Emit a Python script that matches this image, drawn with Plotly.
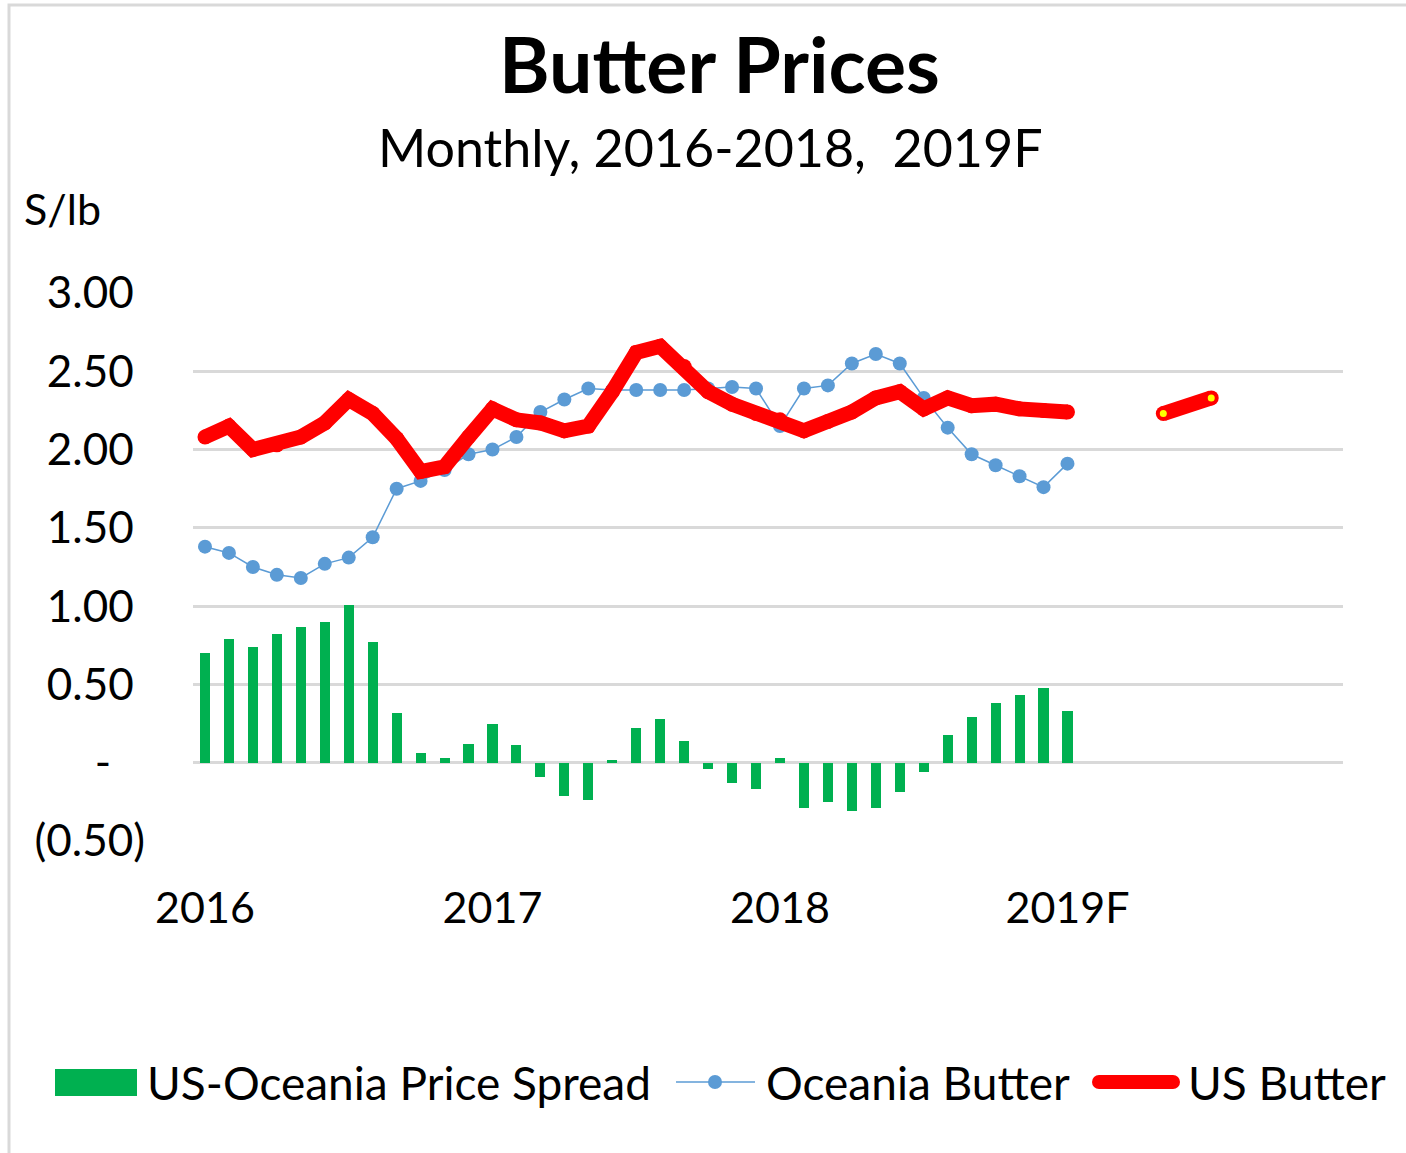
import plotly.graph_objects as go

# Monthly series, Jan 2016 (index 0) through Jan 2019 (index 36)
months = list(range(37))
oceania_butter = [1.38, 1.34, 1.25, 1.20, 1.18, 1.27, 1.31, 1.44, 1.75, 1.80, 1.87, 1.97,
                  2.00, 2.08, 2.24, 2.32, 2.39, 2.38, 2.38, 2.38, 2.38, 2.39, 2.40, 2.39,
                  2.15, 2.39, 2.41, 2.55, 2.61, 2.55, 2.33, 2.14, 1.97, 1.90, 1.83, 1.76,
                  1.91]
us_butter = [2.08, 2.15, 2.00, 2.03, 2.08, 2.17, 2.32, 2.23, 2.07, 1.86, 1.89, 2.08,
             2.26, 2.19, 2.17, 2.12, 2.15, 2.37, 2.62, 2.66, 2.53, 2.37, 2.29, 2.23,
             2.19, 2.12, 2.18, 2.24, 2.33, 2.37, 2.26, 2.33, 2.28, 2.29, 2.26, 2.25,
             2.24]
price_spread = [0.70, 0.79, 0.74, 0.82, 0.87, 0.90, 1.01, 0.77, 0.32, 0.06, 0.03, 0.12,
                0.25, 0.11, -0.09, -0.21, -0.24, 0.02, 0.22, 0.28, 0.14, -0.04, -0.13, -0.17,
                0.03, -0.29, -0.25, -0.31, -0.29, -0.19, -0.06, 0.18, 0.29, 0.38, 0.43, 0.48,
                0.33]

# 2019 forecast points
forecast_months = [40, 42]
us_butter_forecast = [2.23, 2.33]

x_tick_vals = [0, 12, 24, 36]
x_tick_text = ["2016", "2017", "2018", "2019F"]
y_tick_vals = [3.0, 2.5, 2.0, 1.5, 1.0, 0.5, 0.0, -0.5]
y_tick_text = ["3.00", "2.50", "2.00", "1.50", "1.00", "0.50", "-", "(0.50)"]
nb = "\u00a0"
y_tick_text = [t if t.startswith("(") else (t + nb if t != "-" else t + nb * 3) for t in y_tick_text]

FONT = "Lato"
GREEN = "#00b050"
BLUE = "#5b9bd5"
RED = "#ff0000"
GRID = "#d9d9d9"
US_W = 15

W, H = 1406, 1153
ML, MR, MT, MB = 193, 63, 293, 312
PW, PH = W - ML - MR, H - MT - MB


def px(x):
    return (x - ML) / PW


def py(y):
    return (H - MB - y) / PH


fig = go.Figure()

fig.add_trace(go.Bar(x=months, y=price_spread, name="US-Oceania Price Spread",
                     marker=dict(color=GREEN, line=dict(width=0)), width=0.42))
fig.add_trace(go.Scatter(x=months, y=oceania_butter, name="Oceania Butter", mode="lines+markers",
                         line=dict(color=BLUE, width=1.5),
                         marker=dict(color=BLUE, size=14)))
# thick line; same-size markers give rounded joins and ends
fig.add_trace(go.Scatter(x=months, y=us_butter, name="US Butter", mode="lines+markers",
                         line=dict(color=RED, width=US_W),
                         marker=dict(color=RED, size=US_W, line=dict(width=0))))
fig.add_trace(go.Scatter(x=forecast_months, y=us_butter_forecast, name="US Butter 2019F",
                         mode="lines+markers",
                         line=dict(color=RED, width=US_W),
                         marker=dict(color=RED, size=US_W, line=dict(width=0))))
fig.add_trace(go.Scatter(x=forecast_months, y=us_butter_forecast, name="US Butter 2019F points",
                         mode="markers",
                         marker=dict(color="#ffff00", size=7, line=dict(width=0))))

shapes = []
annotations = []

# outer chart border
shapes.append(dict(type="rect", xref="paper", yref="paper",
                   x0=px(9), x1=px(W + 20), y0=py(H + 20), y1=py(5),
                   line=dict(color=GRID, width=3), layer="below"))

LEG_FS = 46
# legend: spread swatch
shapes.append(dict(type="rect", xref="paper", yref="paper",
                   x0=px(55), x1=px(137), y0=py(1096), y1=py(1069),
                   fillcolor=GREEN, line=dict(width=0)))
annotations.append(dict(text="US-Oceania Price Spread", xref="paper", yref="paper",
                        x=px(145), y=py(1082), xanchor="left", yanchor="middle",
                        showarrow=False, font=dict(size=LEG_FS, color="#000", family=FONT)))
# legend: Oceania line with marker
shapes.append(dict(type="line", xref="paper", yref="paper",
                   x0=px(676), x1=px(755), y0=py(1082), y1=py(1082),
                   line=dict(color=BLUE, width=1.5)))
shapes.append(dict(type="circle", xref="paper", yref="paper",
                   x0=px(708), x1=px(722), y0=py(1089), y1=py(1075),
                   fillcolor=BLUE, line=dict(width=0)))
annotations.append(dict(text="Oceania Butter", xref="paper", yref="paper",
                        x=px(764), y=py(1082), xanchor="left", yanchor="middle",
                        showarrow=False, font=dict(size=LEG_FS, color="#000", family=FONT)))
# legend: US butter thick line with rounded ends
shapes.append(dict(type="line", xref="paper", yref="paper",
                   x0=px(1099), x1=px(1173), y0=py(1082), y1=py(1082),
                   line=dict(color=RED, width=14)))
for cx in (1099, 1173):
    shapes.append(dict(type="circle", xref="paper", yref="paper",
                       x0=px(cx - 7), x1=px(cx + 7), y0=py(1089), y1=py(1075),
                       fillcolor=RED, line=dict(width=0)))
annotations.append(dict(text="US Butter", xref="paper", yref="paper",
                        x=px(1186), y=py(1082), xanchor="left", yanchor="middle",
                        showarrow=False, font=dict(size=LEG_FS, color="#000", family=FONT)))

# titles
annotations.append(dict(text="<b>Butter Prices</b>", xref="paper", yref="paper",
                        x=px(719), y=py(63), xanchor="center", yanchor="middle",
                        showarrow=False, font=dict(size=77, color="#000", family=FONT)))
annotations.append(dict(text="Monthly, 2016-2018,  2019F", xref="paper", yref="paper",
                        x=px(710), y=py(147), xanchor="center", yanchor="middle",
                        showarrow=False, font=dict(size=52, color="#000", family=FONT)))
annotations.append(dict(text="S/lb", xref="paper", yref="paper",
                        x=px(22), y=py(208), xanchor="left", yanchor="middle",
                        showarrow=False, font=dict(size=43, color="#000", family=FONT)))

fig.update_layout(
    width=W, height=H,
    margin=dict(l=ML, r=MR, t=MT, b=MB, autoexpand=False),
    paper_bgcolor="white", plot_bgcolor="white",
    showlegend=False,
    bargap=0,
    shapes=shapes,
    annotations=annotations,
    font=dict(family=FONT, color="#000"),
)
fig.update_xaxes(range=[-0.5, 47.5], tickvals=x_tick_vals, ticktext=x_tick_text,
                 showgrid=False, zeroline=False, showline=False, ticks="",
                 tickfont=dict(size=43, family=FONT, color="#000"),
                 ticklabelstandoff=38)
fig.update_yaxes(range=[-0.5, 3.0], tickvals=y_tick_vals, ticktext=y_tick_text,
                 showgrid=True, gridcolor=GRID, gridwidth=2.5,
                 zeroline=True, zerolinecolor=GRID, zerolinewidth=2.5,
                 showline=False, ticks="",
                 tickfont=dict(size=44, family=FONT, color="#000"),
                 ticklabelstandoff=47)

fig.write_html("out.html")
